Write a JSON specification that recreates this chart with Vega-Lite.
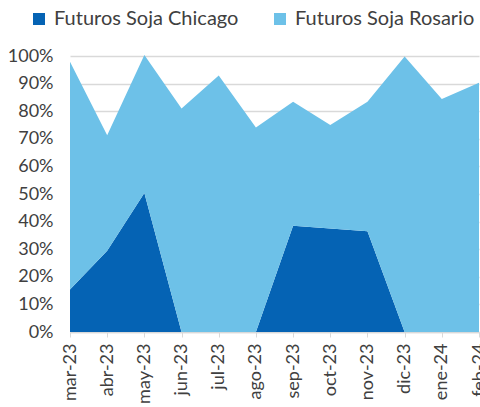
{
  "$schema": "https://vega.github.io/schema/vega-lite/v6.json",
  "width": 409,
  "height": 276,
  "autosize": {"type": "none"},
  "padding": {"left": 70, "top": 56, "right": 1, "bottom": 75},
  "background": "white",
  "config": {
    "font": "Lato",
    "view": {"stroke": null},
    "axis": {"labelFont": "Lato", "labelColor": "#404040", "labelFontSize": 18, "titleFont": "Lato"},
    "legend": {"labelFont": "Lato", "labelColor": "#404040", "labelFontSize": 20, "labelLimit": 400}
  },
  "data": {
    "values": [
      {"mes": "mar-23", "serie": "Futuros Soja Chicago", "orden": 1, "valor": 0.154},
      {"mes": "abr-23", "serie": "Futuros Soja Chicago", "orden": 1, "valor": 0.294},
      {"mes": "may-23", "serie": "Futuros Soja Chicago", "orden": 1, "valor": 0.504},
      {"mes": "jun-23", "serie": "Futuros Soja Chicago", "orden": 1, "valor": 0.0},
      {"mes": "jul-23", "serie": "Futuros Soja Chicago", "orden": 1, "valor": 0.0},
      {"mes": "ago-23", "serie": "Futuros Soja Chicago", "orden": 1, "valor": 0.0},
      {"mes": "sep-23", "serie": "Futuros Soja Chicago", "orden": 1, "valor": 0.385},
      {"mes": "oct-23", "serie": "Futuros Soja Chicago", "orden": 1, "valor": 0.375},
      {"mes": "nov-23", "serie": "Futuros Soja Chicago", "orden": 1, "valor": 0.365},
      {"mes": "dic-23", "serie": "Futuros Soja Chicago", "orden": 1, "valor": 0.0},
      {"mes": "ene-24", "serie": "Futuros Soja Chicago", "orden": 1, "valor": 0.0},
      {"mes": "feb-24", "serie": "Futuros Soja Chicago", "orden": 1, "valor": 0.0},
      {"mes": "mar-23", "serie": "Futuros Soja Rosario", "orden": 2, "valor": 0.825},
      {"mes": "abr-23", "serie": "Futuros Soja Rosario", "orden": 2, "valor": 0.419},
      {"mes": "may-23", "serie": "Futuros Soja Rosario", "orden": 2, "valor": 0.5},
      {"mes": "jun-23", "serie": "Futuros Soja Rosario", "orden": 2, "valor": 0.81},
      {"mes": "jul-23", "serie": "Futuros Soja Rosario", "orden": 2, "valor": 0.929},
      {"mes": "ago-23", "serie": "Futuros Soja Rosario", "orden": 2, "valor": 0.741},
      {"mes": "sep-23", "serie": "Futuros Soja Rosario", "orden": 2, "valor": 0.449},
      {"mes": "oct-23", "serie": "Futuros Soja Rosario", "orden": 2, "valor": 0.375},
      {"mes": "nov-23", "serie": "Futuros Soja Rosario", "orden": 2, "valor": 0.469},
      {"mes": "dic-23", "serie": "Futuros Soja Rosario", "orden": 2, "valor": 0.998},
      {"mes": "ene-24", "serie": "Futuros Soja Rosario", "orden": 2, "valor": 0.844},
      {"mes": "feb-24", "serie": "Futuros Soja Rosario", "orden": 2, "valor": 0.903}
    ]
  },
  "mark": {"type": "area", "interpolate": "linear"},
  "encoding": {
    "x": {
      "field": "mes",
      "type": "ordinal",
      "sort": ["mar-23","abr-23","may-23","jun-23","jul-23","ago-23","sep-23","oct-23","nov-23","dic-23","ene-24","feb-24"],
      "scale": {"type": "point", "padding": 0},
      "axis": {
        "title": null,
        "labelAngle": -90,
        "labelPadding": 6,
        "tickSize": 5,
        "tickColor": "#d9d9d9",
        "domainColor": "#d9d9d9",
        "domainWidth": 1.5,
        "grid": false
      }
    },
    "y": {
      "field": "valor",
      "type": "quantitative",
      "stack": "zero",
      "scale": {"domain": [0, 1], "nice": false},
      "axis": {
        "title": null,
        "format": ".0%",
        "values": [0, 0.1, 0.2, 0.3, 0.4, 0.5, 0.6, 0.7, 0.8, 0.9, 1],
        "ticks": false,
        "domain": false,
        "labelPadding": 17,
        "gridColor": "#d9d9d9",
        "gridWidth": 1.5
      }
    },
    "color": {
      "field": "serie",
      "type": "nominal",
      "scale": {"domain": ["Futuros Soja Chicago", "Futuros Soja Rosario"], "range": ["#0563b4", "#6dc1e8"]},
      "legend": {
        "title": null,
        "orient": "none",
        "legendX": -41,
        "legendY": -47,
        "direction": "horizontal",
        "symbolType": "square",
        "symbolSize": 144,
        "symbolStrokeWidth": 0,
        "labelOffset": 5,
        "columnPadding": 31
      }
    },
    "order": {"field": "orden", "type": "quantitative"}
  }
}
